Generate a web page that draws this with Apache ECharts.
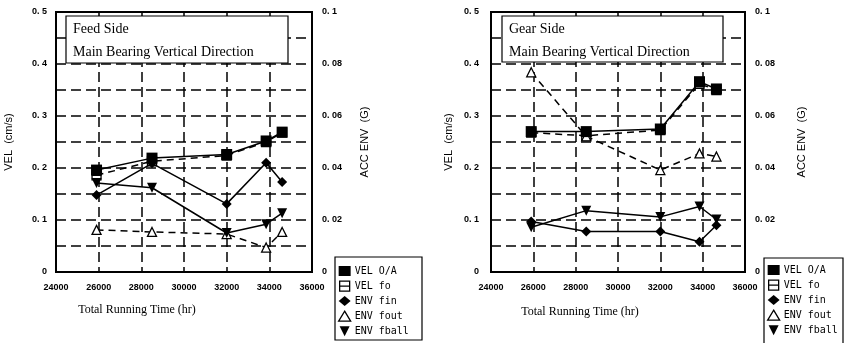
<!DOCTYPE html>
<html>
<head>
<meta charset="utf-8">
<script src="https://cdn.jsdelivr.net/npm/echarts@6/dist/echarts.min.js"></script>
<style>html,body{margin:0;padding:0;background:#fff}#c{width:845px;height:343px}</style>
</head>
<body>
<div id="c"></div>
<script>
// ---- data ----
const seriesNames = ['VEL O/A', 'VEL fo', 'ENV fin', 'ENV fout', 'ENV fball'];
const feedTime = [25900, 28500, 32000, 33850, 34600];
const feedVelOA = [0.196, 0.219, 0.226, 0.252, 0.269];
const feedVelFo = [0.186, 0.213, 0.224, 0.250, 0.268];
const feedEnvFin = [0.0296, 0.0418, 0.0262, 0.0420, 0.0346];
const feedEnvFout = [0.0162, 0.0154, 0.0146, 0.0094, 0.0154];
const feedEnvFball = [0.0342, 0.0324, 0.0150, 0.0184, 0.0226];

const gearTime = [25900, 28500, 32000, 33850, 34650];
const gearVelOA = [0.270, 0.270, 0.275, 0.366, 0.352];
const gearVelFo = [0.268, 0.262, 0.273, 0.362, 0.350];
const gearEnvFin = [0.0194, 0.0156, 0.0156, 0.0116, 0.0180];
const gearEnvFout = [0.0768, 0.0522, 0.0392, 0.0456, 0.0444];
const gearEnvFball = [0.0172, 0.0236, 0.0212, 0.0252, 0.0202];

const panelTitles = [['Feed Side', 'Main Bearing Vertical Direction'], ['Gear Side', 'Main Bearing Vertical Direction']];
const xAxisTitle = 'Total Running Time (hr)';
const velAxisTitle = 'VEL  (cm/s)';
const envAxisTitle = 'ACC ENV  (G)';

// ---- styling ----
const symFo = 'path://M0,0L10,0L10,10L0,10ZM0,5L10,5';
const symBall = 'path://M0,0L10,0L5,10Z';
const symbols = {
  'VEL O/A': {symbol: 'rect', size: 11, fill: '#000'},
  'VEL fo': {symbol: symFo, size: 9, fill: '#fff'},
  'ENV fin': {symbol: 'diamond', size: 10, fill: '#000'},
  'ENV fout': {symbol: 'triangle', size: 9, fill: '#fff'},
  'ENV fball': {symbol: symBall, size: 10, fill: '#000'}
};
const dashedNames = {'VEL fo': true, 'ENV fout': true};

function pairs(xs, ys) { return xs.map((x, i) => [x, ys[i]]); }

const grids = [
  {left: 56, top: 12, width: 256, height: 260},
  {left: 491, top: 12, width: 254, height: 260}
];
const velLabel = (v, i) => (i % 2 ? '' : (i === 0 ? '0' : '0. ' + (i / 2)));
const envLabel = (v, i) => (i % 2 ? '' : (i === 0 ? '0' : (i === 10 ? '0. 1' : '0. 0' + i)));
const tickFont = {fontFamily: 'Liberation Sans', fontWeight: 'bold', fontSize: 9, color: '#000'};
const nameFont = {fontFamily: 'Liberation Sans', fontSize: 11, color: '#000'};
const dash = {type: [10, 5], color: '#000', width: 1.5};

const xAxes = [0, 1].map(g => ({
  type: 'value', gridIndex: g, min: 24000, max: 36000, interval: 2000,
  axisLine: {show: false}, axisTick: {show: false},
  axisLabel: Object.assign({margin: 11, formatter: v => String(v)}, tickFont),
  splitLine: {show: true, lineStyle: dash}
}));
const yAxes = [];
[0, 1].forEach(g => {
  yAxes.push({
    type: 'value', gridIndex: g, position: 'left', min: 0, max: 0.5, interval: 0.05,
    name: velAxisTitle, nameLocation: 'middle', nameRotate: 90, nameGap: g === 0 ? 42 : 37,
    nameTextStyle: nameFont,
    axisLine: {show: false}, axisTick: {show: false},
    axisLabel: Object.assign({margin: g === 0 ? 9 : 12, formatter: velLabel}, tickFont),
    splitLine: {show: true, lineStyle: dash}
  });
  yAxes.push({
    type: 'value', gridIndex: g, position: 'right', min: 0, max: 0.1, interval: 0.01,
    name: envAxisTitle, nameLocation: 'middle', nameRotate: 90, nameGap: g === 0 ? 47 : 51,
    nameTextStyle: nameFont,
    axisLine: {show: false}, axisTick: {show: false},
    axisLabel: Object.assign({margin: 10, formatter: envLabel}, tickFont),
    splitLine: {show: false}
  });
});

function mk(name, g, xs, ys) {
  const s = symbols[name];
  const isEnv = name.indexOf('ENV') === 0;
  return {
    name: name, type: 'line', xAxisIndex: g, yAxisIndex: g * 2 + (isEnv ? 1 : 0),
    data: pairs(xs, ys), symbol: s.symbol, symbolSize: s.size,
    lineStyle: {color: '#000', width: 1.5, type: dashedNames[name] ? [7, 5] : 'solid'},
    itemStyle: {color: s.fill, borderColor: '#000', borderWidth: s.fill === '#fff' ? 1.3 : 0},
    z: name === 'VEL O/A' ? 5 : 3, animation: false
  };
}
const series = [
  mk('VEL fo', 0, feedTime, feedVelFo),
  mk('ENV fout', 0, feedTime, feedEnvFout),
  mk('ENV fin', 0, feedTime, feedEnvFin),
  mk('ENV fball', 0, feedTime, feedEnvFball),
  mk('VEL O/A', 0, feedTime, feedVelOA),
  mk('VEL fo', 1, gearTime, gearVelFo),
  mk('ENV fout', 1, gearTime, gearEnvFout),
  mk('ENV fin', 1, gearTime, gearEnvFin),
  mk('ENV fball', 1, gearTime, gearEnvFball),
  mk('VEL O/A', 1, gearTime, gearVelOA)
];

function legend(left, top) {
  return {
    orient: 'vertical', left: left, top: top, itemGap: 4.4, itemWidth: 12, itemHeight: 10,
    padding: 0, selectedMode: false,
    textStyle: {fontFamily: 'DejaVu Sans Mono', fontSize: 10, color: '#000', padding: [0, 0, 0, -1]},
    lineStyle: {opacity: 0},
    data: seriesNames.map(n => ({name: n, icon: symbols[n].symbol,
      itemStyle: {color: symbols[n].fill, borderColor: '#000', borderWidth: symbols[n].fill === '#fff' ? 1.3 : 0}}))
  };
}

const boxes = [
  {x: 66, y: 16, w: 222, h: 47},
  {x: 502, y: 16, w: 221, h: 46}
];
const graphic = [];
boxes.forEach((b, i) => {
  graphic.push({type: 'rect', z: 1, shape: {x: b.x, y: b.y, width: b.w, height: b.h},
    style: {fill: '#fff', stroke: '#000', lineWidth: 1.2}});
  graphic.push({type: 'text', z: 2, x: b.x + 7, y: b.y + 13, style: {text: panelTitles[i][0],
    font: '14px "Liberation Serif"', fill: '#000', verticalAlign: 'middle'}});
  graphic.push({type: 'text', z: 2, x: b.x + 7, y: b.y + 36, style: {text: panelTitles[i][1],
    font: '14px "Liberation Serif"', fill: '#000', verticalAlign: 'middle'}});
});
[137, 580].forEach((cx, i) => {
  graphic.push({type: 'text', x: cx, y: i === 0 ? 310 : 312, style: {text: xAxisTitle,
    font: '12px "Liberation Serif"', fill: '#000', align: 'center', verticalAlign: 'middle'}});
});
graphic.push({type: 'rect', shape: {x: 335, y: 257, width: 87, height: 83}, style: {fill: '#fff', stroke: '#000', lineWidth: 1.2}});
graphic.push({type: 'rect', shape: {x: 764, y: 258, width: 79, height: 86}, style: {fill: '#fff', stroke: '#000', lineWidth: 1.2}});

const chart = echarts.init(document.getElementById('c'), null, {renderer: 'canvas'});
chart.setOption({
  animation: false,
  backgroundColor: '#fff',
  grid: grids.map(g => Object.assign({show: true, borderColor: '#000', borderWidth: 2, backgroundColor: 'transparent'}, g)),
  xAxis: xAxes, yAxis: yAxes, series: series,
  legend: [legend(338, 266), legend(767, 265)],
  graphic: graphic
});
</script>
</body>
</html>
